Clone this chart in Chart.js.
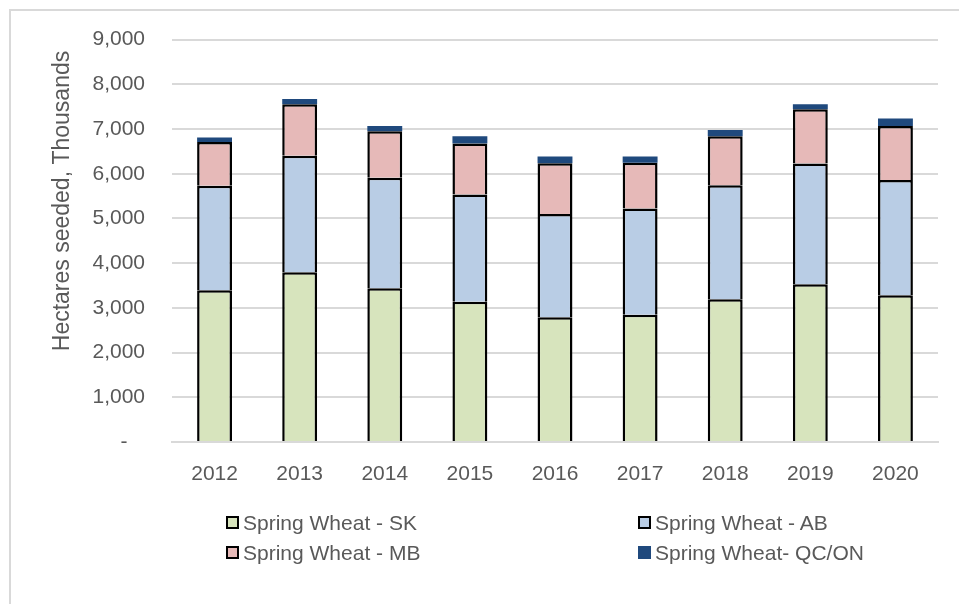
<!DOCTYPE html>
<html>
<head>
<meta charset="utf-8">
<script src="https://cdn.jsdelivr.net/npm/chart.js@4"></script>
<style>
  body { margin: 0; background: #fff; }
  #wrap { position: relative; width: 959px; height: 604px; overflow: hidden; }
  #frame { position: absolute; left: 9px; top: 9px; width: 980px; height: 620px;
           border-top: 2px solid #d9d9d9; border-left: 2px solid #d9d9d9; }
  canvas { position: absolute; left: 0; top: 0; }
  #legend { position: absolute; left: 226px; top: 511px; display: grid;
            grid-template-columns: 412px 260px; row-gap: 7px;
            font: 21px "Liberation Sans", Arial, sans-serif; color: #595959; }
  .item { display: flex; align-items: center; height: 23px; }
  .box { width: 9px; height: 9px; margin-right: 4px; border: 2px solid #000; }
</style>
</head>
<body>
<div id="wrap">
  <div id="frame"></div>
  <canvas id="chart" width="959" height="604"></canvas>
  <div id="legend"></div>
</div>
<script>
// values, thousands of hectares
const years = ["2012", "2013", "2014", "2015", "2016", "2017", "2018", "2019", "2020"];
const skValues = [3395, 3795, 3440, 3135, 2790, 2845, 3190, 3530, 3280];
const abValues = [2335, 2605, 2470, 2400, 2310, 2380, 2550, 2700, 2580];
const mbValues = [980, 1155, 1040, 1140, 1135, 1020, 1100, 1210, 1210];
const qcValues = [100, 118, 120, 165, 150, 140, 140, 115, 165];
const seriesNames = ["Spring Wheat - SK", "Spring Wheat - AB", "Spring Wheat - MB", "Spring Wheat- QC/ON"];
const seriesColors = ["#d7e4bd", "#b9cde5", "#e6b9b8", "#1f497d"];
const yMax = 9000;
const yStep = 1000;

const font = '"Liberation Sans", Arial, sans-serif';
const textColor = "#595959";

const datasets = [skValues, abValues, mbValues, qcValues].map((vals, i) => ({
  label: seriesNames[i],
  data: vals,
  backgroundColor: seriesColors[i],
  borderColor: i < 3 ? "#000" : seriesColors[i],
  borderWidth: i < 3 ? 2.5 : 0,
  barPercentage: 0.41,
  categoryPercentage: 1
}));

// y axis title sits above centre in the original, so draw it by hand
const yTitle = {
  id: "yTitle",
  afterDraw(chart) {
    const ctx = chart.ctx;
    ctx.save();
    ctx.translate(63, 201);
    ctx.rotate(-Math.PI / 2);
    ctx.font = "23px " + font;
    ctx.fillStyle = textColor;
    ctx.textAlign = "center";
    ctx.textBaseline = "middle";
    ctx.fillText("Hectares seeded, Thousands", 0, 0);
    ctx.restore();
  }
};

new Chart(document.getElementById("chart"), {
  type: "bar",
  data: { labels: years, datasets: datasets },
  options: {
    responsive: false,
    animation: false,
    layout: { padding: { top: 39, right: 21, left: 0, bottom: 0 } },
    plugins: { legend: { display: false }, tooltip: { enabled: false } },
    scales: {
      x: {
        stacked: true,
        grid: { display: false },
        border: { color: "#d9d9d9", width: 2 },
        ticks: { color: textColor, font: { family: font, size: 21 }, padding: 12 },
        afterFit: s => { s.height = 162; }
      },
      y: {
        stacked: true,
        min: 0,
        max: yMax,
        ticks: {
          stepSize: yStep,
          color: textColor,
          font: { family: font, size: 21 },
          padding: 27,
          callback: v => v === 0 ? "-   " : v.toLocaleString("en-US")
        },
        grid: { color: "#d9d9d9", lineWidth: 2, drawTicks: false },
        border: { display: false },
        afterFit: s => { s.width = 172; }
      }
    }
  },
  plugins: [yTitle]
});

// two-column legend like the original
const legend = document.getElementById("legend");
[0, 1, 2, 3].forEach(i => {
  const item = document.createElement("div");
  item.className = "item";
  const box = document.createElement("span");
  box.className = "box";
  box.style.background = seriesColors[i];
  if (i === 3) box.style.borderColor = seriesColors[i];
  const txt = document.createElement("span");
  txt.textContent = seriesNames[i];
  item.appendChild(box);
  item.appendChild(txt);
  legend.appendChild(item);
});
</script>
</body>
</html>
